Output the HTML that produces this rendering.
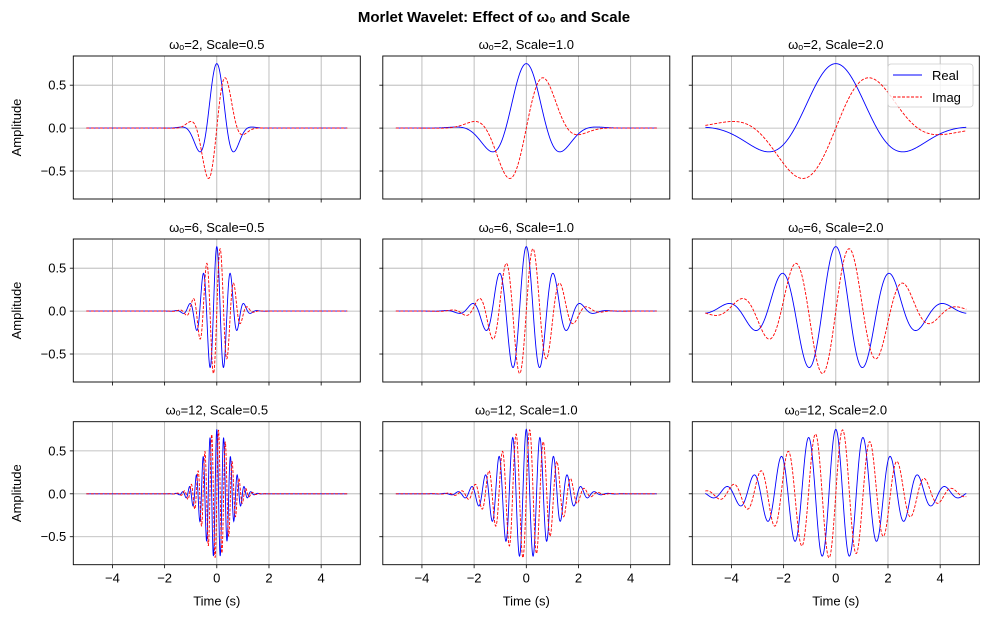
<!DOCTYPE html>
<html><head><meta charset="utf-8"><style>
body{margin:0;background:#fff;}
svg{display:block;font-family:"Liberation Sans","DejaVu Sans",sans-serif;}
</style></head><body>
<svg id="fig" width="989" height="617" viewBox="0 0 989 617">
<text x="494" y="22" text-anchor="middle" font-size="15" font-weight="bold">Morlet Wavelet: Effect of ω₀ and Scale</text>
</svg>
<script>
const omegas = [2, 6, 12];
const scales = [0.5, 1.0, 2.0];
const xTicks = [-4, -2, 0, 2, 4];
const yTicks = [-0.5, 0, 0.5];
const xLim = [-5.5, 5.5];
const yLim = [-0.826, 0.84];
const tRange = [-5, 5];

const NS = 'http://www.w3.org/2000/svg';
const svg = document.getElementById('fig');
function mk(tag, attrs, parent) {
  const e = document.createElementNS(NS, tag);
  for (const k in attrs) e.setAttribute(k, attrs[k]);
  (parent || svg).appendChild(e);
  return e;
}
const colX = [73.3, 382.8, 692.3], W = 287;
const rowY = [56, 239, 421.7], H = 143;

function morlet(t, w0, s) {
  const x = t / s;
  const env = Math.pow(Math.PI, -0.25) * Math.exp(-x * x / 2);
  return [env * Math.cos(w0 * x), env * Math.sin(w0 * x)];
}

omegas.forEach((w0, r) => {
  scales.forEach((s, c) => {
    const L = colX[c], T = rowY[r];
    const sx = v => L + (v - xLim[0]) / (xLim[1] - xLim[0]) * W;
    const sy = v => T + (yLim[1] - v) / (yLim[1] - yLim[0]) * H;
    const g = mk('g', {});
    
    
    xTicks.forEach(v => {
      const l = mk('line', {x1: sx(v), x2: sx(v), y1: T, y2: T + H, stroke: '#b0b0b0', 'stroke-width': 0.8}, g);
      
      
      mk('line', {x1: sx(v), x2: sx(v), y1: T + H, y2: T + H + 3.5, stroke: '#000', 'stroke-width': 0.8}, g);
      if (r === 2) {
        const tx = mk('text', {x: sx(v), y: T + H + 18, 'text-anchor': 'middle', 'font-size': 13}, g);
        tx.textContent = v < 0 ? '\u2212' + Math.abs(v) : String(v);
        
        
      }
    });
    yTicks.forEach(v => {
      const l = mk('line', {x1: L, x2: L + W, y1: sy(v), y2: sy(v), stroke: '#b0b0b0', 'stroke-width': 0.8}, g);
      
      
      mk('line', {x1: L - 3.5, x2: L, y1: sy(v), y2: sy(v), stroke: '#000', 'stroke-width': 0.8}, g);
      if (c === 0) {
        const tx = mk('text', {x: L - 7, y: sy(v) + 4.5, 'text-anchor': 'end', 'font-size': 13}, g);
        tx.textContent = v < 0 ? '\u2212' + Math.abs(v).toFixed(1) : v.toFixed(1);
        
        
      }
    });
    let pr = '', pi = '';
    const N = 1000;
    for (let i = 0; i <= N; i++) {
      const t = tRange[0] + (tRange[1] - tRange[0]) * i / N;
      const [re, im] = morlet(t, w0, s);
      pr += (i ? 'L' : 'M') + sx(t).toFixed(2) + ',' + sy(re).toFixed(2);
      pi += (i ? 'L' : 'M') + sx(t).toFixed(2) + ',' + sy(im).toFixed(2);
    }
    const lr = mk('path', {d: pr, fill: 'none', stroke: '#0000ff', 'stroke-width': 0.9}, g);
    
    
    const li = mk('path', {d: pi, fill: 'none', stroke: '#ff0000', 'stroke-width': 0.9, 'stroke-dasharray': '3,1.5'}, g);
    
    
    const fr = mk('rect', {x: L, y: T, width: W, height: H, fill: 'none', stroke: '#000', 'stroke-width': 0.9}, g);
    
    
    const tt = mk('text', {x: L + W / 2, y: T - 7, 'text-anchor': 'middle', 'font-size': 13}, g);
    tt.textContent = '\u03c9\u2092=' + w0 + ', Scale=' + s.toFixed(1);
    
    
    if (c === 0) {
      const yl = mk('text', {x: 0, y: 0, 'text-anchor': 'middle', 'font-size': 13, transform: 'translate(21,' + (T + H / 2) + ') rotate(-90)'}, g);
      yl.textContent = 'Amplitude';
      
      
    }
    if (r === 2) {
      const xl = mk('text', {x: L + W / 2, y: T + H + 41, 'text-anchor': 'middle', 'font-size': 13}, g);
      xl.textContent = 'Time (s)';
      
      
    }
    if (r === 0 && c === 2) {
      const lg = mk('g', {}, g);
      
      
      mk('rect', {x: 888, y: 64, width: 85, height: 43, rx: 3, fill: 'rgba(255,255,255,0.8)', stroke: '#cccccc', 'stroke-width': 0.8}, lg);
      mk('line', {x1: 893, x2: 922, y1: 75, y2: 75, stroke: '#0000ff', 'stroke-width': 0.9}, lg);
      mk('line', {x1: 893, x2: 922, y1: 97, y2: 97, stroke: '#ff0000', 'stroke-width': 0.9, 'stroke-dasharray': '3,1.5'}, lg);
      const a = mk('text', {x: 932, y: 80, 'font-size': 13}, lg);
      a.textContent = 'Real';
      
      
      const b = mk('text', {x: 932, y: 102, 'font-size': 13}, lg);
      b.textContent = 'Imag';
      
      
    }
  });
});
</script>
</body></html>
